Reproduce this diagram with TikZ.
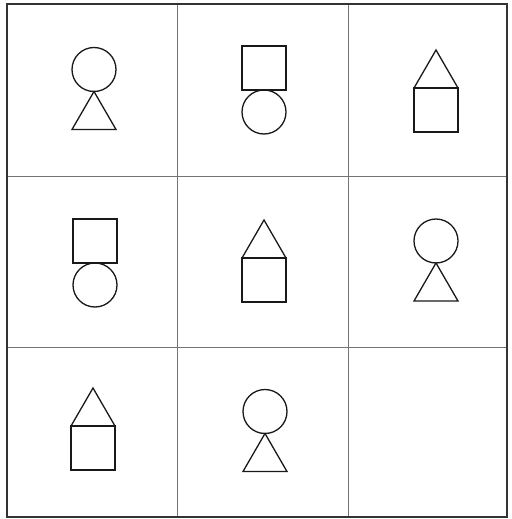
\documentclass[tikz,border=0pt]{standalone}
\begin{document}
\begin{tikzpicture}[x=1pt,y=-1pt,
  shape line/.style={line width=1.3pt, draw=black!90},
  outer line/.style={line width=1.6pt, draw=black!80},
  inner line/.style={line width=0.8pt, draw=black!55},
  ct/.pic={% circle over triangle, origin at contact point
    \draw[shape line] (0,-22) circle[radius=22];
    \draw[shape line] (0,0) -- (22,38) -- (-22,38) -- cycle;},
  sc/.pic={% square over circle
    \draw[shape line] (-22,-44) rectangle (22,0);
    \draw[shape line] (0,22) circle[radius=22];},
  ts/.pic={% triangle over square
    \draw[shape line] (0,-38) -- (22,0) -- (-22,0) -- cycle;
    \draw[shape line] (-22,0) rectangle (22,44);}
]
\useasboundingbox (0,0) rectangle (511,519);
\fill[white] (0,0) rectangle (511,519);
% grid
\draw[inner line] (177,4) -- (177,517);
\draw[inner line] (348,4) -- (348,517);
\draw[inner line] (7,176) -- (507,176);
\draw[inner line] (7,347) -- (507,347);
\draw[outer line] (7,4) rectangle (507,517);
% figures
\pic at (94,91.5) {ct};
\pic at (264,90) {sc};
\pic at (436,88) {ts};
\pic at (95,263) {sc};
\pic at (264,258) {ts};
\pic at (436,263) {ct};
\pic at (93,426) {ts};
\pic at (265,433.5) {ct};
\end{tikzpicture}
\end{document}
